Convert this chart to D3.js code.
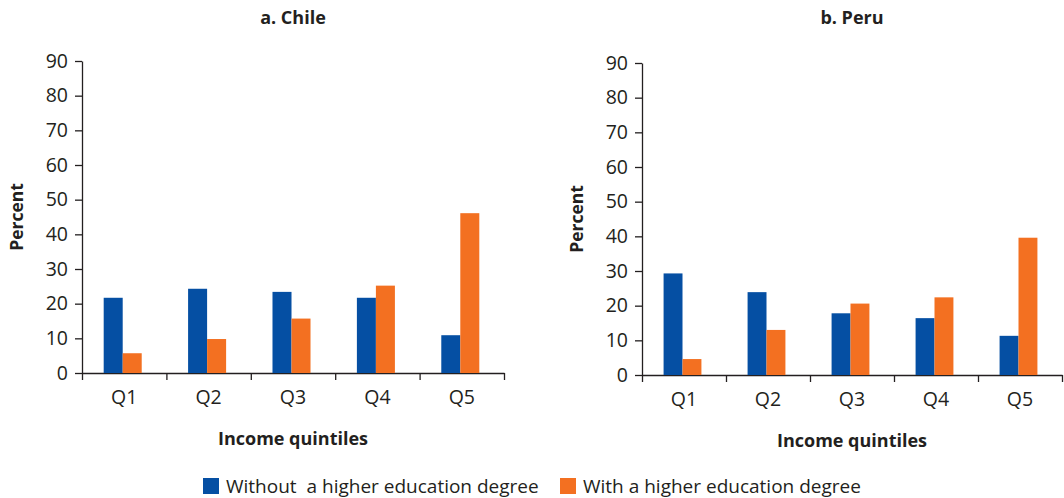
<!DOCTYPE html>
<html>
<head>
<meta charset="utf-8">
<script src="https://cdn.jsdelivr.net/npm/d3@7"></script>
<style>
  body { margin: 0; background: #fff; }
  svg { font-family: "Open Sans", sans-serif; }
  .axis path, .axis line { stroke: #231f20; stroke-width: 1.3; }
  .axis text { fill: #231f20; }
</style>
</head>
<body>
<div id="chart"></div>
<script>
// data
const quintiles = ["Q1", "Q2", "Q3", "Q4", "Q5"];
const seriesNames = ["Without  a higher education degree", "With a higher education degree"];
const chileWithout = [21.7, 24.3, 23.4, 21.7, 10.9];
const chileWith = [5.7, 9.8, 15.7, 25.2, 46.1];
const peruWithout = [29.3, 23.9, 17.8, 16.4, 11.3];
const peruWith = [4.6, 13.0, 20.6, 22.4, 39.6];
const yTicks = [0, 10, 20, 30, 40, 50, 60, 70, 80, 90];

const colors = ["#054fa3", "#f37021"];
const ink = "#231f20";

const svg = d3.select("#chart").append("svg")
    .attr("width", 1064)
    .attr("height", 498);

const panels = [
    { title: "a. Chile", left: 82, top: 61, width: 422, without: chileWithout, with: chileWith, ylabX: 17 },
    { title: "b. Peru", left: 642, top: 63, width: 420, without: peruWithout, with: peruWith, ylabX: 577 }
];

const height = 312;

panels.forEach(p => {
    const width = p.width;
    const g = svg.append("g").attr("transform", `translate(${p.left},${p.top})`);

    const x0 = d3.scaleBand().domain(quintiles).range([0, width]).paddingInner(0);
    const x1 = d3.scaleBand().domain([0, 1]).range([0, x0.bandwidth()]).paddingInner(0).paddingOuter(1.22);
    const y = d3.scaleLinear().domain([0, 90]).range([height, 0]);

    // y axis
    g.append("g").attr("class", "axis")
        .call(d3.axisLeft(y).tickValues(yTicks).tickSize(7).tickSizeOuter(0).tickPadding(7))
        .call(a => a.attr("font-size", null).attr("font-family", null))
        .call(a => a.selectAll("text").attr("font-size", 19.5));

    // x boundary ticks
    const xb = d3.scaleLinear().domain([0, quintiles.length]).range([0, width]);
    g.append("g").attr("class", "axis")
        .attr("transform", `translate(0,${height})`)
        .call(d3.axisBottom(xb).tickValues(d3.range(quintiles.length + 1)).tickSize(7).tickSizeOuter(0).tickFormat(""));

    // x labels
    g.append("g").attr("class", "axis")
        .attr("transform", `translate(0,${height})`)
        .call(d3.axisBottom(x0).tickSize(0).tickPadding(17))
        .call(a => a.attr("font-size", null).attr("font-family", null))
        .call(a => a.selectAll("text").attr("font-size", 19.5))
        .call(a => a.select(".domain").remove());

    const rows = quintiles.map((q, i) => ({ q: q, vals: [p.without[i], p.with[i]] }));

    g.selectAll(".grp")
        .data(rows)
        .join("g")
        .attr("class", "grp")
        .attr("transform", d => `translate(${x0(d.q) - 1.5},0)`)
        .selectAll("rect")
        .data(d => d.vals.map((v, k) => ({ k: k, v: v })))
        .join("rect")
        .attr("x", d => x1(d.k))
        .attr("width", x1.bandwidth())
        .attr("y", d => y(d.v))
        .attr("height", d => height - y(d.v))
        .attr("fill", d => colors[d.k]);

    // title
    svg.append("text")
        .attr("x", p.left + width / 2)
        .attr("y", 24)
        .attr("text-anchor", "middle")
        .attr("font-weight", "bold")
        .attr("font-size", 18)
        .attr("fill", ink)
        .text(p.title);

    // x title
    svg.append("text")
        .attr("x", p.left + width / 2)
        .attr("y", p.top + height + 72)
        .attr("text-anchor", "middle")
        .attr("font-weight", "bold")
        .attr("font-size", 18)
        .attr("fill", ink)
        .text("Income quintiles");

    // y title
    svg.append("text")
        .attr("transform", `translate(${p.ylabX + 6},${p.top + height / 2}) rotate(-90)`)
        .attr("text-anchor", "middle")
        .attr("font-weight", "bold")
        .attr("font-size", 17.5)
        .attr("fill", ink)
        .text("Percent");
});

// legend
const legendX = [203, 560];
const legend = svg.selectAll(".leg")
    .data(seriesNames)
    .join("g")
    .attr("class", "leg")
    .attr("transform", (d, i) => `translate(${legendX[i]},478)`);

legend.append("rect")
    .attr("width", 16)
    .attr("height", 16)
    .attr("fill", (d, i) => colors[i]);

legend.append("text")
    .attr("x", 23)
    .attr("y", 15)
    .attr("font-size", 19)
    .attr("fill", ink)
    .style("white-space", "pre")
    .text(d => d);
</script>
</body>
</html>
